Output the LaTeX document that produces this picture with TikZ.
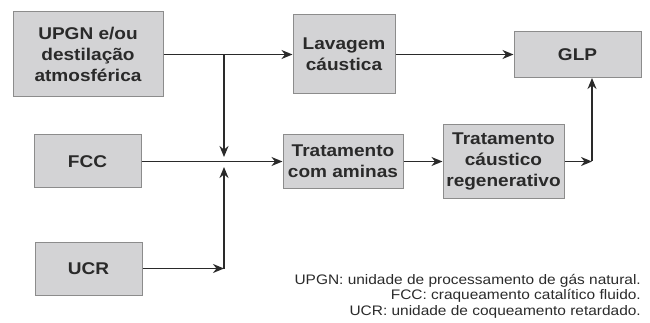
\documentclass[tikz,border=0pt]{standalone}
\usepackage{fontspec}
\setmainfont{Liberation Sans}[FakeStretch=1.12]
\usepackage{tikz}
\usetikzlibrary{arrows.meta}

\definecolor{boxfill}{HTML}{D3D3D5}
\definecolor{boxline}{HTML}{8C8C8C}
\definecolor{ink}{HTML}{2A2A2A}

\tikzset{
    unit/.style = {draw = boxline, fill = boxfill, line width = 1pt, text = ink,
        align = center, inner sep = 0pt,
        font = \fontsize{17}{21}\selectfont\bfseries},
    flow/.style = {draw = ink, line width = 1.4pt},
    note/.style = {text = ink, align = right, inner sep = 0pt,
        font = \fontsize{13.8}{15.5}\selectfont}
}

\begin{document}
\begin{tikzpicture}[x = 1pt, y = -1pt, >={Stealth[length = 11pt, width = 9pt, inset = 3.5pt]}]
    \useasboundingbox (0,0) rectangle (650,323);
    % caixas
    \node (upgn) [unit, minimum width = 150pt, minimum height = 85pt] at (88,54.5) {UPGN e/ou\\destilação\\atmosférica};
    \node (lav) [unit, minimum width = 102pt, minimum height = 79pt] at (344,54.5) {Lavagem\\cáustica};
    \node (glp) [unit, minimum width = 127pt, minimum height = 46pt] at (577.5,54.5) {GLP};
    \node (fcc) [unit, minimum width = 107pt, minimum height = 53pt] at (87.5,161.5) {FCC};
    \node (ucr) [unit, minimum width = 107pt, minimum height = 53pt] at (88.5,268.5) {UCR};
    \node (amin) [unit, minimum width = 120pt, minimum height = 54pt] at (343,161.5) {Tratamento\\com aminas};
    \node (caus) [unit, minimum width = 121pt, minimum height = 73pt] at (503.5,161.5) {Tratamento\\cáustico\\regenerativo};
    % pontos de ligação
    \coordinate (split) at (224,54.5);
    \coordinate (jtop) at (224,157);
    \coordinate (jbot) at (224,167);
    \coordinate (ucrturn) at (224,268.5);
    \coordinate (rise) at (592,161.5);
    % fluxos
    \draw [flow, ->] (upgn.east) -- (lav.west);
    \draw [flow, ->] (split) -- (jtop);
    \draw [flow, ->] (lav.east) -- (glp.west);
    \draw [flow, ->] (fcc.east) -- (amin.west);
    \draw [flow, ->] (ucr.east) -- (ucrturn);
    \draw [flow, ->] (ucrturn) -- (jbot);
    \draw [flow, ->] (amin.east) -- (caus.west);
    \draw [flow, ->] (caus.east) -- (rise);
    \draw [flow, ->] (rise) -- (rise |- glp.south);
    % legenda
    \node (legend) [note, anchor = north east] at (641,274) {UPGN: unidade de processamento de gás natural.\\FCC: craqueamento catalítico fluido.\\UCR: unidade de coqueamento retardado.};
\end{tikzpicture}
\end{document}
